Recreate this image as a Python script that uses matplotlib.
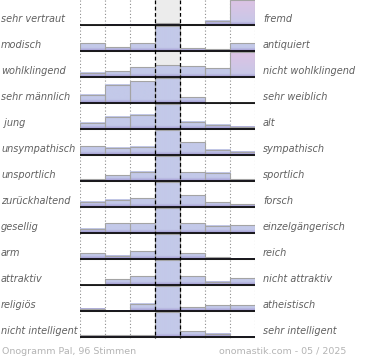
import numpy as np
import matplotlib
matplotlib.use("Agg")
import matplotlib.pyplot as plt
from matplotlib import transforms

# pole labels, top to bottom
left_labels = ["sehr vertraut", "modisch", "wohlklingend", "sehr männlich", " jung",
               "unsympathisch", "unsportlich", "zurückhaltend", "gesellig", "arm",
               "attraktiv", "religiös", "nicht intelligent"]
right_labels = ["fremd", "antiquiert", "nicht wohlklingend", "sehr weiblich", "alt",
                "sympathisch", "sportlich", "forsch", "einzelgängerisch", "reich",
                "nicht attraktiv", "atheistisch", "sehr intelligent"]

# bar heights per row, % of full row height (100 = capped), 7 steps left -> right
row_vertraut = [0, 1, 1, 7, 4, 17, 100]
row_modisch = [32, 16, 32, 100, 12, 7, 32]
row_klang = [17, 23, 40, 47, 44, 36, 100]
row_geschlecht = [33, 73, 87, 100, 24, 0, 0]
row_alter = [26, 50, 57, 100, 30, 17, 10]
row_sympathie = [35, 29, 33, 100, 51, 21, 13]
row_sport = [8, 23, 37, 100, 36, 33, 7]
row_forsch = [21, 29, 36, 100, 48, 20, 11]
row_gesellig = [17, 39, 39, 100, 39, 29, 32]
row_reich = [23, 13, 31, 100, 23, 8, 1]
row_attraktiv = [0, 23, 36, 100, 36, 13, 27]
row_religion = [9, 2, 29, 100, 16, 23, 23]
row_intelligenz = [8, 8, 8, 100, 24, 13, 2]

footer_left = "Onogramm Pal, 96 Stimmen"
footer_right = "onomastik.com - 05 / 2025"

rows = [row_vertraut, row_modisch, row_klang, row_geschlecht, row_alter,
        row_sympathie, row_sport, row_forsch, row_gesellig, row_reich,
        row_attraktiv, row_religion, row_intelligenz]

W, H = 370, 360
first_base = 25
pitch = 26
full = 25
plot_bottom = 340

blue = np.array([0xc3, 0xc9, 0xe9]) / 255
pink = np.array([0xdc, 0xc3, 0xe4]) / 255
purple = np.array([0x90, 0x80, 0xc4]) / 255


def gradient(h, t):
    n = max(int(h * 4), 2)
    y = (np.arange(n) + 0.5) / n * h
    a = t * (y / h) ** 0.8
    c = blue[None, :] * (1 - a[:, None]) + pink[None, :] * a[:, None]
    p = np.clip(1 - y / 3.5, 0, 1) * 0.75
    c = c * (1 - p[:, None]) + purple[None, :] * p[:, None]
    return c[:, None, :]


def main():
    fig = plt.figure(figsize=(W / 100, H / 100), dpi=100)
    ax = fig.add_axes([80 / W, (H - plot_bottom) / H, 175 / W, plot_bottom / H])
    ax.axis("off")

    last_base = first_base + pitch * (len(rows) - 1)
    line_end = last_base + 1

    # neutral column background
    ax.fill_between([3, 4], 0, line_end, color="#ececec", lw=0, zorder=0)
    ax.vlines([0, 1, 2, 5, 6, 7], 0, line_end, colors="#8c8c8c",
              linestyles=(0, (1, 2)), lw=0.8, zorder=1)

    for i, vals in enumerate(rows):
        base = first_base + pitch * i
        for c, v in enumerate(vals):
            if v <= 0:
                continue
            h = v / 100 * full
            t = 0 if c == 3 else max(0, (v - 90) / 10)
            ax.imshow(gradient(h, t), extent=(c, c + 1, base, base - h),
                      origin="lower", aspect="auto", interpolation="bilinear",
                      zorder=2)
        heights = [-v / 100 * full for v in vals]
        ax.bar(np.arange(7), heights, width=1, bottom=base, align="edge",
               fill=False, edgecolor="#a4a4a4", lw=0.8, zorder=3)
        ax.hlines(base, 0, 7, colors="black", lw=1.2, zorder=5)

        tr = transforms.blended_transform_factory(fig.transFigure, ax.transData)
        ax.text(1 / W, base - 5.5, left_labels[i], transform=tr, ha="left",
                va="center", fontsize=7, style="italic", color="#606060")
        ax.text(263 / W, base - 5.5, right_labels[i], transform=tr, ha="left",
                va="center", fontsize=7, style="italic", color="#606060")

    ax.vlines([3, 4], 0, line_end, colors="black", linestyles=(0, (3, 2)),
              lw=0.9, zorder=6)

    ax.set_xlim(0, 7)
    ax.set_ylim(plot_bottom, 0)

    fig.text(2 / W, 1 - 351 / H, footer_left, ha="left", va="center",
             fontsize=6.8, color="#b4b4b4")
    fig.text(346 / W, 1 - 351 / H, footer_right, ha="right", va="center",
             fontsize=6.8, color="#b4b4b4")

    fig.savefig("out.png", dpi=100)
    plt.close(fig)


if __name__ == "__main__":
    main()
